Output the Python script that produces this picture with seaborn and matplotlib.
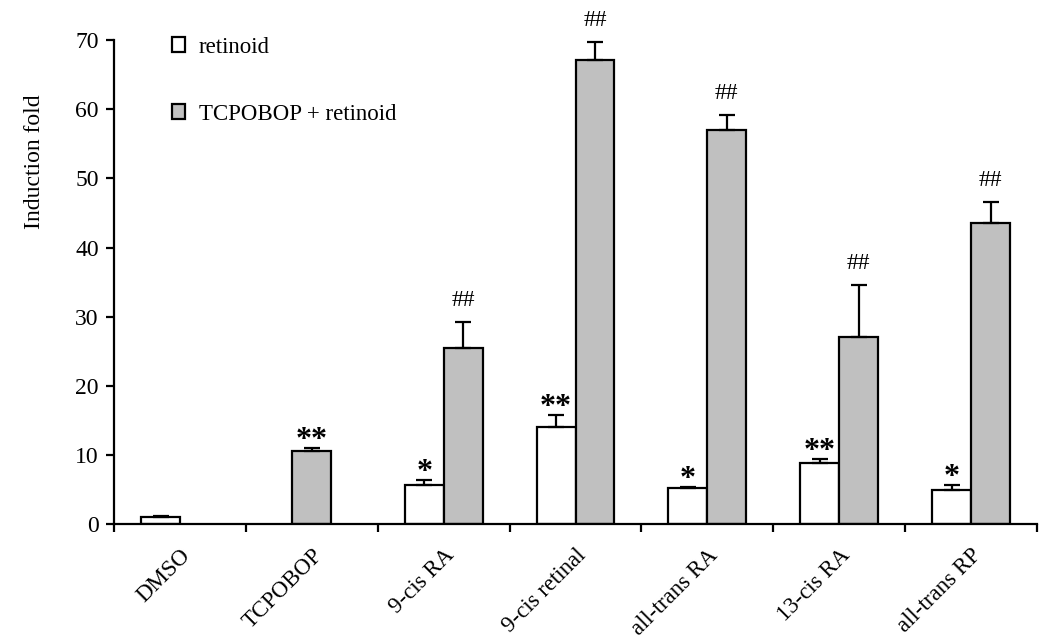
import numpy as np
import pandas as pd
import matplotlib
matplotlib.use("Agg")
import matplotlib.pyplot as plt
import seaborn as sns

# Data
categories = ["DMSO", "TCPOBOP", "9-cis RA", "9-cis retinal", "all-trans RA", "13-cis RA", "all-trans RP"]
retinoid = [1.0, np.nan, 5.6, 14.0, 5.2, 8.8, 4.9]
retinoid_err = [0.1, np.nan, 0.8, 1.8, 0.2, 0.6, 0.8]
tcpobop = [np.nan, 10.5, 25.5, 67.1, 57.0, 27.1, 43.6]
tcpobop_err = [np.nan, 0.5, 3.7, 2.7, 2.2, 7.5, 3.0]
retinoid_marks = ["", "", "*", "**", "*", "**", "*"]
tcpobop_marks = ["", "**", "##", "##", "##", "##", "##"]
series = ["retinoid", "TCPOBOP + retinoid"]

rows = []
for i, c in enumerate(categories):
    for s, vals, errs, marks in [(series[0], retinoid, retinoid_err, retinoid_marks),
                                 (series[1], tcpobop, tcpobop_err, tcpobop_marks)]:
        if not np.isnan(vals[i]):
            rows.append({"group": c, "series": s, "value": vals[i], "err": errs[i], "mark": marks[i]})
df = pd.DataFrame(rows)

sns.set_style("ticks")
plt.rcParams["font.family"] = ["Liberation Serif", "DejaVu Serif"]
plt.rcParams.update({"text.color": "black", "axes.labelcolor": "black", "axes.edgecolor": "black",
                     "xtick.color": "black", "ytick.color": "black"})

fig = plt.figure(figsize=(10.5, 6.39), dpi=100)
ax = fig.add_axes([0.1086, 0.180, 0.8790, 0.757])

sns.barplot(data=df, x="group", y="value", hue="series", order=categories, hue_order=series,
            palette={series[0]: "white", series[1]: "#c0c0c0"}, width=0.59,
            edgecolor="black", linewidth=1.6, errorbar=None, ax=ax)

# error bars and significance marks, placed from the drawn bars
for cont, s in zip(ax.containers, series):
    sub = df[df["series"] == s].set_index("group")
    for bar in cont:
        xc = bar.get_x() + bar.get_width() / 2
        g = categories[int(round(xc))]
        if g not in sub.index:
            continue
        r = sub.loc[g]
        if g == "TCPOBOP":
            # single bar in this group sits centred
            bar.set_x(bar.get_x() - bar.get_width() / 2)
            xc = bar.get_x() + bar.get_width() / 2
        ax.errorbar(xc, r["value"], yerr=[[0], [r["err"]]], fmt="none", ecolor="black",
                    elinewidth=1.6, capsize=6, capthick=1.6, zorder=3)
        top = r["value"] + r["err"]
        if r["mark"].startswith("*"):
            ax.annotate(r["mark"], (xc, top), xytext=(0, -5), textcoords="offset points",
                        ha="center", va="bottom", fontsize=23, fontweight="bold")
        elif r["mark"]:
            ax.annotate(r["mark"], (xc, top), xytext=(0, 8), textcoords="offset points",
                        ha="center", va="bottom", fontsize=17)

ax.set_ylim(0, 70)
ax.set_xlim(-0.5, len(categories) - 0.5)
ax.set_yticks(range(0, 71, 10))
ax.tick_params(axis="y", labelsize=17, width=1.6, length=6, direction="out", pad=5)
ax.set_xticks(range(len(categories)))
ax.set_xticklabels(categories, rotation=45, ha="right", rotation_mode="anchor", fontsize=16.5)
ax.tick_params(axis="x", length=0, pad=15)
# boundary ticks between groups
ax.set_xticks(np.arange(-0.5, len(categories), 1.0), minor=True)
ax.tick_params(axis="x", which="minor", length=6, width=1.6, direction="out")

ax.set_xlabel("")
ax.set_ylabel("Induction fold", fontsize=17)
ax.yaxis.set_label_coords(-0.075, 0.75)

for sp in ["top", "right"]:
    ax.spines[sp].set_visible(False)
for sp in ["left", "bottom"]:
    ax.spines[sp].set_linewidth(1.6)

handles, labels = ax.get_legend_handles_labels()
ax.legend(handles, labels, loc="upper left", bbox_to_anchor=(0.04, 1.05), frameon=False,
          fontsize=16.5, handlelength=0.6, handleheight=0.6, labelspacing=2.0, handletextpad=0.6)

fig.savefig("out.png", dpi=100)
